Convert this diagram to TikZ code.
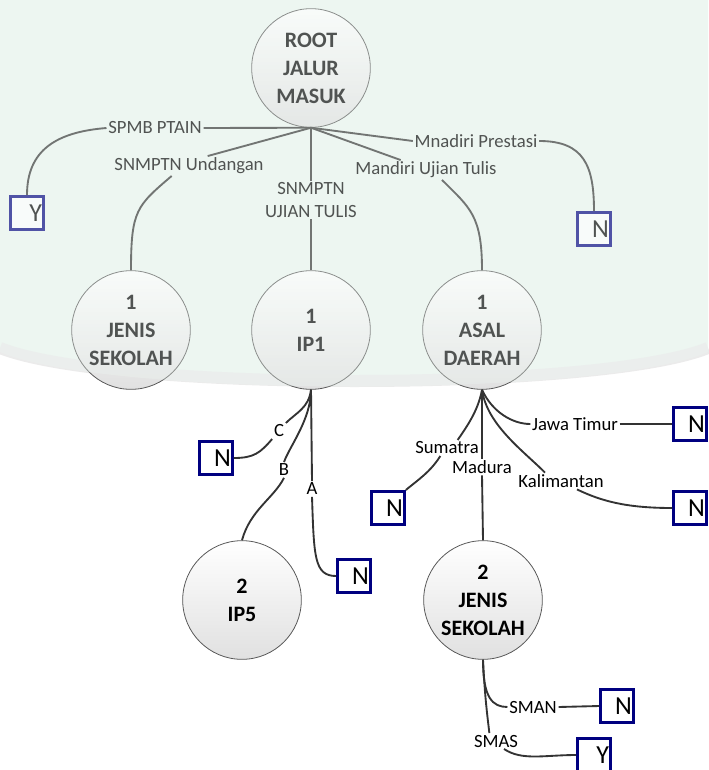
\documentclass[tikz,border=0pt]{standalone}
\usepackage{fontspec}
\setmainfont{Carlito}
\usetikzlibrary{positioning}
\definecolor{mint}{HTML}{EDF6F1}
\definecolor{biru}{HTML}{000080}

\begin{document}
\begin{tikzpicture}[x=0.75pt,y=-0.75pt,
        bulat/.style={circle, draw=black!65, line width=0.6pt, top color=white, bottom color=black!12,
          minimum size=89pt, inner sep=0pt, align=center, font=\fontsize{16.5}{21}\selectfont\bfseries},
        ket/.style={inner sep=1.2pt, font=\fontsize{14}{17}\selectfont},
        kotak/.style={draw=biru, line width=2.25pt, fill=white, inner xsep=1pt, inner ysep=0pt,
          text width=22.5pt, align=right, minimum height=24.75pt, font=\fontsize{19.5}{20}\selectfont},
        garis/.style={draw=black!80, line width=1.4pt}]
        \useasboundingbox (0,0) rectangle (708,770);
        % tinted background of the upper half
        \fill[mint] (0,0) -- (708,0) -- (708,352) .. controls (600,398) and (110,398) .. (0,352) -- cycle;
        \draw[black!8, line width=9pt] (0,348) .. controls (110,392) and (600,392) .. (708,348);
        % draw nodes
        \node[bulat] (root) at (311,68) {ROOT\\JALUR\\MASUK};
        \node[bulat] (jenis1) at (131,330) {1\\JENIS\\SEKOLAH};
        \node[bulat] (ip1) at (311,330) {1\\IP1};
        \node[bulat] (asal1) at (482,330) {1\\ASAL\\DAERAH};
        \node[bulat] (ip5) at (242,600) {2\\IP5};
        \node[bulat] (jenis2) at (483,600) {2\\JENIS\\SEKOLAH};
        % draw labels
        \node[ket] (spmb) at (155,128) {SPMB PTAIN};
        \node[ket] (undangan) at (189,166) {SNMPTN Undangan};
        \node[ket, align=center] (utul) at (311,200) {SNMPTN\\UJIAN TULIS};
        \node[ket] (mutul) at (426,170) {Mandiri Ujian Tulis};
        \node[ket] (mpres) at (476,141) {Mnadiri Prestasi};
        \node[ket] (nilC) at (279,431) {C};
        \node[ket] (nilB) at (284,470) {B};
        \node[ket] (nilA) at (312,489) {A};
        \node[ket] (jatim) at (575,424) {Jawa Timur};
        \node[ket] (sumatra) at (447,448) {Sumatra};
        \node[ket] (madura) at (482,467) {Madura};
        \node[ket] (kalimantan) at (561,481) {Kalimantan};
        \node[ket] (sman) at (533,707) {SMAN};
        \node[ket] (smas) at (496,741) {SMAS};
        % draw leaves
        \node[kotak] (yspmb) at (27,213) {Y};
        \node[kotak] (npres) at (594,229) {N};
        \node[kotak] (nC) at (216,458) {N};
        \node[kotak] (nA) at (354,576) {N};
        \node[kotak] (njatim) at (690,424) {N};
        \node[kotak] (nsumatra) at (388,508) {N};
        \node[kotak] (nkalimantan) at (690,508) {N};
        \node[kotak] (nsman) at (617,706) {N};
        \node[kotak] (ysmas) at (594,755) {Y};
        % draw branches of the root
        \draw[garis] (root.south) -- (spmb.east);
        \draw[garis] (spmb.west) .. controls +(-50,4) and +(0,-45) .. (yspmb.north);
        \draw[garis] (root.south) -- ([xshift=14pt]undangan.north);
        \draw[garis] ([xshift=-13pt]undangan.south) .. controls +(-35,30) and +(0,-60) .. (jenis1.north);
        \draw[garis] (root.south) -- (utul.north);
        \draw[garis] (utul.south) -- (ip1.north);
        \draw[garis] (root.south) -- ([xshift=-19pt]mutul.north);
        \draw[garis] ([xshift=12pt]mutul.south) .. controls +(28,28) and +(0,-55) .. (asal1.north);
        \draw[garis] (root.south) -- (mpres.west);
        \draw[garis] (mpres.east) .. controls +(45,0) and +(0,-45) .. (npres.north);
        % draw branches of IP1
        \draw[garis] (ip1.south) .. controls +(-2,18) and +(10,-10) .. (nilC.north east);
        \draw[garis] (nilC.south west) .. controls +(-12,14) and +(20,0) .. (nC.east);
        \draw[garis] (ip1.south) .. controls +(0,30) and +(5,-15) .. (nilB.north);
        \draw[garis] (nilB.south) .. controls +(-10,20) and +(8,-30) .. (ip5.north);
        \draw[garis] (ip1.south) -- (nilA.north);
        \draw[garis] (nilA.south) .. controls +(2,60) and +(-22,0) .. (nA.west);
        % draw branches of ASAL DAERAH
        \draw[garis] (asal1.south) .. controls +(10,22) and +(-18,0) .. (jatim.west);
        \draw[garis] (jatim.east) -- (njatim.west);
        \draw[garis] (asal1.south) .. controls +(-4,22) and +(8,-12) .. ([xshift=8pt]sumatra.north);
        \draw[garis] ([xshift=-5pt]sumatra.south) .. controls +(-10,16) and +(12,-10) .. (nsumatra.north east);
        \draw[garis] (asal1.south) -- (madura.north);
        \draw[garis] (madura.south) -- (jenis2.north);
        \draw[garis] (asal1.south) .. controls +(5,35) and +(-22,-22) .. ([xshift=-12pt]kalimantan.north);
        \draw[garis] ([xshift=12pt]kalimantan.south) .. controls +(25,12) and +(-45,0) .. (nkalimantan.west);
        % draw branches of JENIS SEKOLAH
        \draw[garis] (jenis2.south) .. controls +(0,38) and +(-15,0) .. (sman.west);
        \draw[garis] (sman.east) -- (nsman.west);
        \draw[garis] (jenis2.south) .. controls +(2,40) and +(-2,-18) .. ([xshift=-5pt]smas.north);
        \draw[garis] ([xshift=6pt]smas.south) .. controls +(18,12) and +(-32,0) .. (ysmas.west);
        % fade the upper half
        \fill[mint, opacity=0.34] (0,0) -- (708,0) -- (708,352) .. controls (600,398) and (110,398) .. (0,352) -- cycle;
\end{tikzpicture}
\end{document}
